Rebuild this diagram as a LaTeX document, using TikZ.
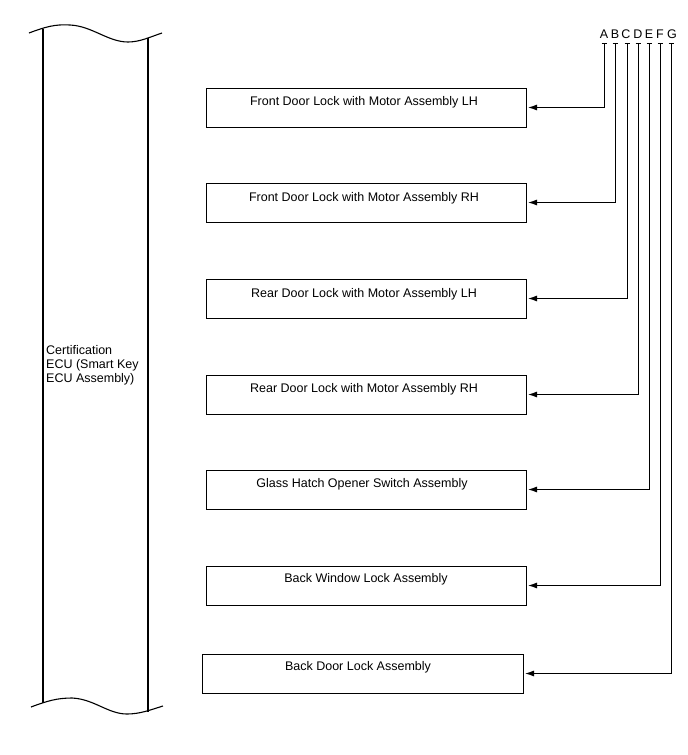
\documentclass[tikz,border=0pt]{standalone}
\usepackage{fontspec}
\setmainfont{Liberation Sans}
\usetikzlibrary{arrows.meta}
\begin{document}
\begin{tikzpicture}[x=1pt,y=-1pt,
  txt/.style={font=\fontsize{12.5}{14}\selectfont, inner sep=0pt},
  box/.style={draw, line width=1pt, minimum width=320pt, minimum height=39pt, inner sep=0pt},
  conn/.style={line width=1pt, -{Latex[length=9pt,width=6pt]}, shorten >=1.5pt},
  tick/.style={line width=0.8pt},
  ecu/.style={line width=1.1pt}]
\useasboundingbox (0,0) rectangle (688,755);
% ECU shape
\draw[ecu] (29,33) .. controls (45,27) and (55,24) .. (70,25) .. controls (92,26) and (108,42) .. (128,42) .. controls (140,42) and (150,37) .. (162,33);
\draw[ecu] (31,707) .. controls (47,701) and (57,698) .. (72,698) .. controls (94,699) and (108,714) .. (127,714) .. controls (140,714) and (150,710) .. (163,706);
\draw[ecu] (43,29) -- (43,703);
\draw[ecu] (148,38) -- (148,712);
\node[txt, align=left, anchor=north west] (ecu) at (46,345) {Certification\\ECU (Smart Key\\ECU Assembly)};
% boxes
\node[box] (b1) at (366,107.5) {};
\node[box] (b2) at (366,202.5) {};
\node[box] (b3) at (366,298.5) {};
\node[box] (b4) at (366,394.5) {};
\node[box] (b5) at (366,489.5) {};
\node[box] (b6) at (366,585.5) {};
\node[box, minimum width=321pt] (b7) at (362.5,673.5) {};
\node[txt] (t1) at (364,102) {Front Door Lock with Motor Assembly LH};
\node[txt] (t2) at (364,198) {Front Door Lock with Motor Assembly RH};
\node[txt] (t3) at (364,294) {Rear Door Lock with Motor Assembly LH};
\node[txt] (t4) at (364,389) {Rear Door Lock with Motor Assembly RH};
\node[txt] (t5) at (362,484) {Glass Hatch Opener Switch Assembly};
\node[txt] (t6) at (366,579) {Back Window Lock Assembly};
\node[txt] (t7) at (358,667) {Back Door Lock Assembly};
% letters
\foreach \l/\x in {A/604,B/615,C/626,D/638,E/649,F/660,G/672}{
  \node[txt] (l\l) at (\x,34) {\l};
}
% connector tops
\foreach \n/\x in {A/604,B/615,C/627,D/638,E/649,F/660,G/671}{
  \coordinate (p\n) at (\x,43);
  \draw[tick] (\x-2.5,43) -- (\x+2.5,43);
}
\draw[conn] (pA) |- (b1.east);
\draw[conn] (pB) |- (b2.east);
\draw[conn] (pC) |- (b3.east);
\draw[conn] (pD) |- (b4.east);
\draw[conn] (pE) |- (b5.east);
\draw[conn] (pF) |- (b6.east);
\draw[conn] (pG) |- (b7.east);
\end{tikzpicture}
\end{document}
